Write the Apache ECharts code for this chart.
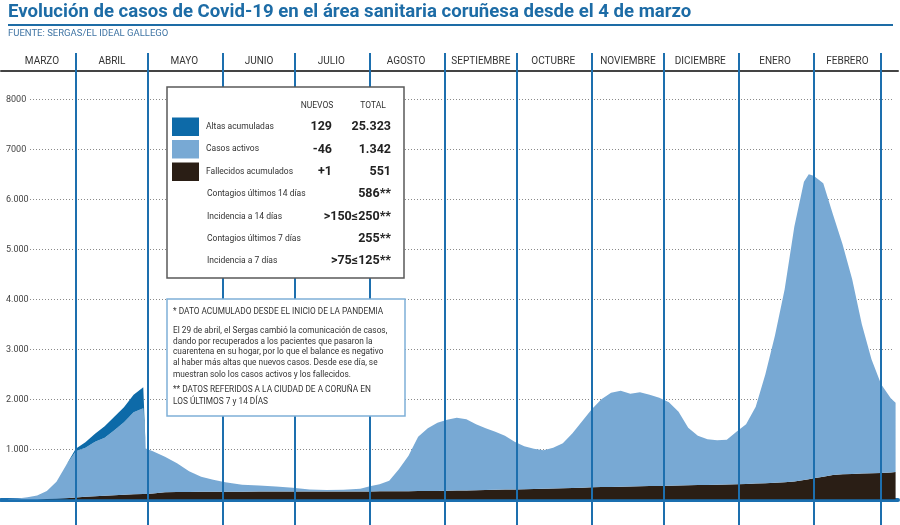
<!DOCTYPE html>
<html lang="es">
<head>
  <meta charset="UTF-8">
  <title>Evolución de casos de Covid-19</title>
  <script src="https://cdn.jsdelivr.net/npm/echarts@6/dist/echarts.min.js"></script>
  <style>
    html, body { margin: 0; padding: 0; background: #fff; }
  </style>
</head>
<body>
  <div id="app" style="width: 900px; height: 525px;"></div>
  <script>
    var fechas = [
      '2020-03-04','2020-03-08','2020-03-12','2020-03-16','2020-03-20','2020-03-24','2020-03-28',
      '2020-04-01','2020-04-05','2020-04-09','2020-04-13','2020-04-17','2020-04-21','2020-04-25','2020-04-29','2020-04-30',
      '2020-05-03','2020-05-08','2020-05-13','2020-05-18','2020-05-23','2020-05-28',
      '2020-06-02','2020-06-09','2020-06-16','2020-06-23','2020-06-30',
      '2020-07-07','2020-07-14','2020-07-21','2020-07-28',
      '2020-08-01','2020-08-05','2020-08-09','2020-08-13','2020-08-17','2020-08-21','2020-08-25','2020-08-29',
      '2020-09-02','2020-09-06','2020-09-10','2020-09-14','2020-09-18','2020-09-22','2020-09-26','2020-09-30',
      '2020-10-04','2020-10-08','2020-10-12','2020-10-16','2020-10-20','2020-10-24','2020-10-28',
      '2020-11-01','2020-11-05','2020-11-09','2020-11-13','2020-11-17','2020-11-21','2020-11-25','2020-11-29',
      '2020-12-03','2020-12-07','2020-12-11','2020-12-15','2020-12-19','2020-12-23','2020-12-27','2020-12-31',
      '2021-01-04','2021-01-08','2021-01-12','2021-01-16','2021-01-20','2021-01-24','2021-01-28','2021-01-30',
      '2021-02-01','2021-02-05','2021-02-09','2021-02-13','2021-02-17','2021-02-21','2021-02-25',
      '2021-03-01','2021-03-05','2021-03-07'
    ]
    var fallecidos = [
      0, 0, 0, 1, 4, 12, 22,
      35, 50, 60, 70, 80, 90, 100, 105, 108,
      115, 140, 145, 148, 150, 150,
      152, 153, 154, 155, 156,
      157, 157, 158, 158,
      158, 159, 160, 161, 162, 164, 166, 168,
      172, 175, 178, 182, 186, 190, 194, 198,
      202, 206, 210, 215, 220, 226, 233,
      240, 244, 248, 252, 256, 260, 264, 268,
      272, 276, 280, 284, 288, 292, 297, 303,
      308, 314, 320, 330, 342, 358, 385, 400,
      420, 450, 485, 500, 508, 514, 520,
      527, 537, 545
    ]
    var activos = [
      5, 15, 40, 75, 160, 340, 660,
      925, 980, 1090, 1160, 1300, 1450, 1640, 1715, 910,
      845, 710, 575, 412, 300, 240,
      188, 137, 121, 100, 74,
      38, 28, 32, 52,
      102, 141, 210, 439, 708, 1086, 1254, 1362,
      1418, 1455, 1422, 1318, 1234, 1160, 1076, 952,
      858, 804, 770, 815, 900, 1094, 1327,
      1560, 1756, 1882, 1918, 1854, 1880, 1826, 1762,
      1668, 1474, 1150, 986, 912, 888, 893, 1047,
      1192, 1536, 2180, 2950, 3858, 5092, 5965, 6100,
      6050, 5870, 5215, 4600, 3892, 2986, 2280,
      1773, 1483, 1385
    ]
    // altas solo hasta el 29 de abril
    var altas = [
      null, null, null, null, null, null, 0,
      50, 110, 160, 230, 270, 300, 350, 420, 0
    ]

    var mesesInicio = ['2020-04-01','2020-05-01','2020-06-01','2020-07-01','2020-08-01','2020-09-01',
      '2020-10-01','2020-11-01','2020-12-01','2021-01-01','2021-02-01','2021-03-01']
    var mesesCentro = ['2020-03-18','2020-04-16','2020-05-16','2020-06-16','2020-07-16','2020-08-16',
      '2020-09-16','2020-10-16','2020-11-16','2020-12-16','2021-01-16','2021-02-15']
    var meses = ['MARZO','ABRIL','MAYO','JUNIO','JULIO','AGOSTO','SEPTIEMBRE','OCTUBRE',
      'NOVIEMBRE','DICIEMBRE','ENERO','FEBRERO']
    var yEtiquetas = ['', '1.000', '2.000', '3.000', '4.000', '5.000', '6.000', '7000', '8000']

    var leyendaNombres = ['Altas acumuladas', 'Casos activos', 'Fallecidos acumulados']
    var leyendaNuevos = ['129', '-46', '+1']
    var leyendaTotal = ['25.323', '1.342', '551']
    var extraNombres = ['Contagios últimos 14 días', 'Incidencia a 14 días', 'Contagios últimos 7 días', 'Incidencia a 7 días']
    var extraValores = ['586**', '>150≤250**', '255**', '>75≤125**']
    var notaLineas = [
      '* DATO ACUMULADO DESDE EL INICIO DE LA PANDEMIA',
      'El 29 de abril, el Sergas cambió la comunicación de casos,',
      'dando por recuperados a los pacientes que pasaron la',
      'cuarentena en su hogar, por lo que el balance es negativo',
      'al haber más altas que nuevos casos. Desde ese día, se',
      'muestran solo los casos activos y los fallecidos.',
      '** DATOS REFERIDOS A LA CIUDAD DE A CORUÑA EN',
      'LOS ÚLTIMOS 7 y 14 DÍAS'
    ]

    var colores = { altas: '#0d6aa8', activos: '#78a9d4', fallecidos: '#2a1e15', linea: '#1d6fae' }
    var fuente = 'Roboto, "Noto Sans", sans-serif'
    var inicio = '2020-03-01'
    var fin = '2021-03-08'

    function ts(s) {
      var p = s.split('-')
      return new Date(+p[0], +p[1] - 1, +p[2]).getTime()
    }
    function pares(valores) {
      var out = []
      for (var i = 0; i < fechas.length; i++) {
        out.push([ts(fechas[i]), i < valores.length ? valores[i] : null])
      }
      return out
    }
    var nombreMes = {}
    mesesCentro.forEach(function (d, i) { nombreMes[ts(d)] = meses[i] })

    // textos de la tabla y la nota
    var graficos = [
      { type: 'rect', shape: { x: 8, y: 24, width: 885, height: 2 }, style: { fill: '#1d6ca6' }, z: 10 },
      { type: 'rect', shape: { x: 167, y: 87, width: 237, height: 191 },
        style: { fill: '#fff', stroke: '#5a5a5a', lineWidth: 1.5 }, z: 10 },
      { type: 'rect', shape: { x: 167, y: 299, width: 238, height: 117 },
        style: { fill: '#fff', stroke: '#7fb0d8', lineWidth: 1.5 }, z: 10 },
      { type: 'text', x: 317, y: 106, z: 11, style: { text: 'NUEVOS', font: '8.5px ' + fuente, fill: '#333', align: 'center', verticalAlign: 'middle' } },
      { type: 'text', x: 373, y: 106, z: 11, style: { text: 'TOTAL', font: '8.5px ' + fuente, fill: '#333', align: 'center', verticalAlign: 'middle' } }
    ]
    var filasY = [127, 149.5, 172]
    leyendaNuevos.forEach(function (v, i) {
      graficos.push({ type: 'text', x: 332, y: filasY[i], z: 11,
        style: { text: v, font: 'bold 12.5px ' + fuente, fill: '#222', align: 'right', verticalAlign: 'middle' } })
      graficos.push({ type: 'text', x: 391, y: filasY[i], z: 11,
        style: { text: leyendaTotal[i], font: 'bold 12.5px ' + fuente, fill: '#222', align: 'right', verticalAlign: 'middle' } })
    })
    var extraY = [194, 216.5, 239, 260.5]
    extraNombres.forEach(function (n, i) {
      graficos.push({ type: 'text', x: 207, y: extraY[i], z: 11,
        style: { text: n, font: '8.5px ' + fuente, fill: '#333', align: 'left', verticalAlign: 'middle' } })
      graficos.push({ type: 'text', x: 391, y: extraY[i], z: 11,
        style: { text: extraValores[i], font: 'bold 12.5px ' + fuente, fill: '#222', align: 'right', verticalAlign: 'middle' } })
    })
    var notaY = [311.5, 330.5, 341.5, 352.3, 363.2, 374.5, 390, 402]
    notaLineas.forEach(function (t, i) {
      graficos.push({ type: 'text', x: 173, y: notaY[i], z: 11,
        style: { text: t, font: '8.3px ' + fuente, fill: '#333', align: 'left', verticalAlign: 'middle' } })
    })

    var app = document.querySelector('#app')
    var mCharts = echarts.init(app)
    var option = {
      animation: false,
      textStyle: { fontFamily: fuente },
      title: [
        { text: 'Evolución de casos de Covid-19 en el área sanitaria coruñesa desde el 4 de marzo',
          left: 8, top: 3, padding: 0,
          textStyle: { fontSize: 18.6, fontWeight: 'bold', color: '#1d6ca6', fontFamily: fuente } },
        { text: 'FUENTE: SERGAS/EL IDEAL GALLEGO', left: 8, top: 29, padding: 0,
          textStyle: { fontSize: 9.5, fontWeight: 'normal', color: '#3f74a4', fontFamily: fuente } }
      ],
      legend: {
        data: leyendaNombres,
        orient: 'vertical',
        left: 172, top: 117.5, padding: 0,
        itemWidth: 27, itemHeight: 18.5, itemGap: 4,
        icon: 'rect',
        selectedMode: false,
        z: 20,
        textStyle: { fontSize: 8.5, color: '#333', padding: [0, 0, 0, 2] }
      },
      graphic: { elements: graficos },
      grid: [
        { left: 1, right: 2, top: 53, bottom: 0, outerBoundsMode: 'none' },
        { left: 1, right: 2, top: 71, height: 1, outerBoundsMode: 'none' },
        { left: 30, right: 6, top: 99.3, bottom: 25.7, outerBoundsMode: 'none' }
      ],
      xAxis: [
        { type: 'time', gridIndex: 0, min: ts(inicio), max: ts(fin),
          axisLine: { onZero: true, lineStyle: { color: '#1a6fb0', width: 4 } },
          axisTick: { show: false }, axisLabel: { show: false }, splitLine: { show: false } },
        { type: 'value', gridIndex: 1, position: 'top', min: ts(inicio), max: ts(fin),
          axisLine: { onZero: false, lineStyle: { color: '#444', width: 2 } },
          axisTick: { show: false }, splitLine: { show: false },
          axisLabel: {
            customValues: mesesCentro.map(ts),
            margin: 5, fontSize: 10, color: '#333', hideOverlap: false,
            formatter: function (v) { return nombreMes[v] || '' }
          } },
        { type: 'value', gridIndex: 2, min: 0, max: 1, show: false }
      ],
      yAxis: [
        { type: 'value', gridIndex: 0, min: -514, max: 8926, show: false, splitLine: { show: false } },
        { type: 'value', gridIndex: 1, show: false },
        { type: 'value', gridIndex: 2, min: 0, max: 8000, interval: 1000,
          axisLine: { show: false }, axisTick: { show: false },
          splitLine: { lineStyle: { color: '#8a8a8a', type: [1, 2], width: 1 } },
          axisLabel: {
            margin: 24, align: 'left', fontSize: 9, color: '#444',
            formatter: function (v) { return yEtiquetas[Math.round(v / 1000)] }
          } }
      ],
      series: [
        { name: 'Fallecidos acumulados', type: 'line', stack: 'total', xAxisIndex: 0, yAxisIndex: 0,
          data: pares(fallecidos), showSymbol: false, symbol: 'none',
          color: colores.fallecidos, itemStyle: { color: colores.fallecidos },
          lineStyle: { width: 0 }, areaStyle: { color: colores.fallecidos, opacity: 1 } },
        { name: 'Casos activos', type: 'line', stack: 'total', xAxisIndex: 0, yAxisIndex: 0,
          data: pares(activos), showSymbol: false, symbol: 'none',
          color: colores.activos, itemStyle: { color: colores.activos },
          lineStyle: { width: 0 }, areaStyle: { color: colores.activos, opacity: 1 } },
        { name: 'Altas acumuladas', type: 'line', stack: 'total', xAxisIndex: 0, yAxisIndex: 0,
          data: pares(altas), showSymbol: false, symbol: 'none', z: 3,
          color: colores.altas, itemStyle: { color: colores.altas },
          lineStyle: { width: 0 }, areaStyle: { color: colores.altas, opacity: 1 },
          markLine: {
            silent: true, symbol: ['none', 'none'], label: { show: false },
            lineStyle: { color: colores.linea, width: 2, type: 'solid' },
            data: mesesInicio.map(function (d) { return { xAxis: ts(d) } })
          } }
      ]
    }
    mCharts.setOption(option)
  </script>
</body>
</html>
